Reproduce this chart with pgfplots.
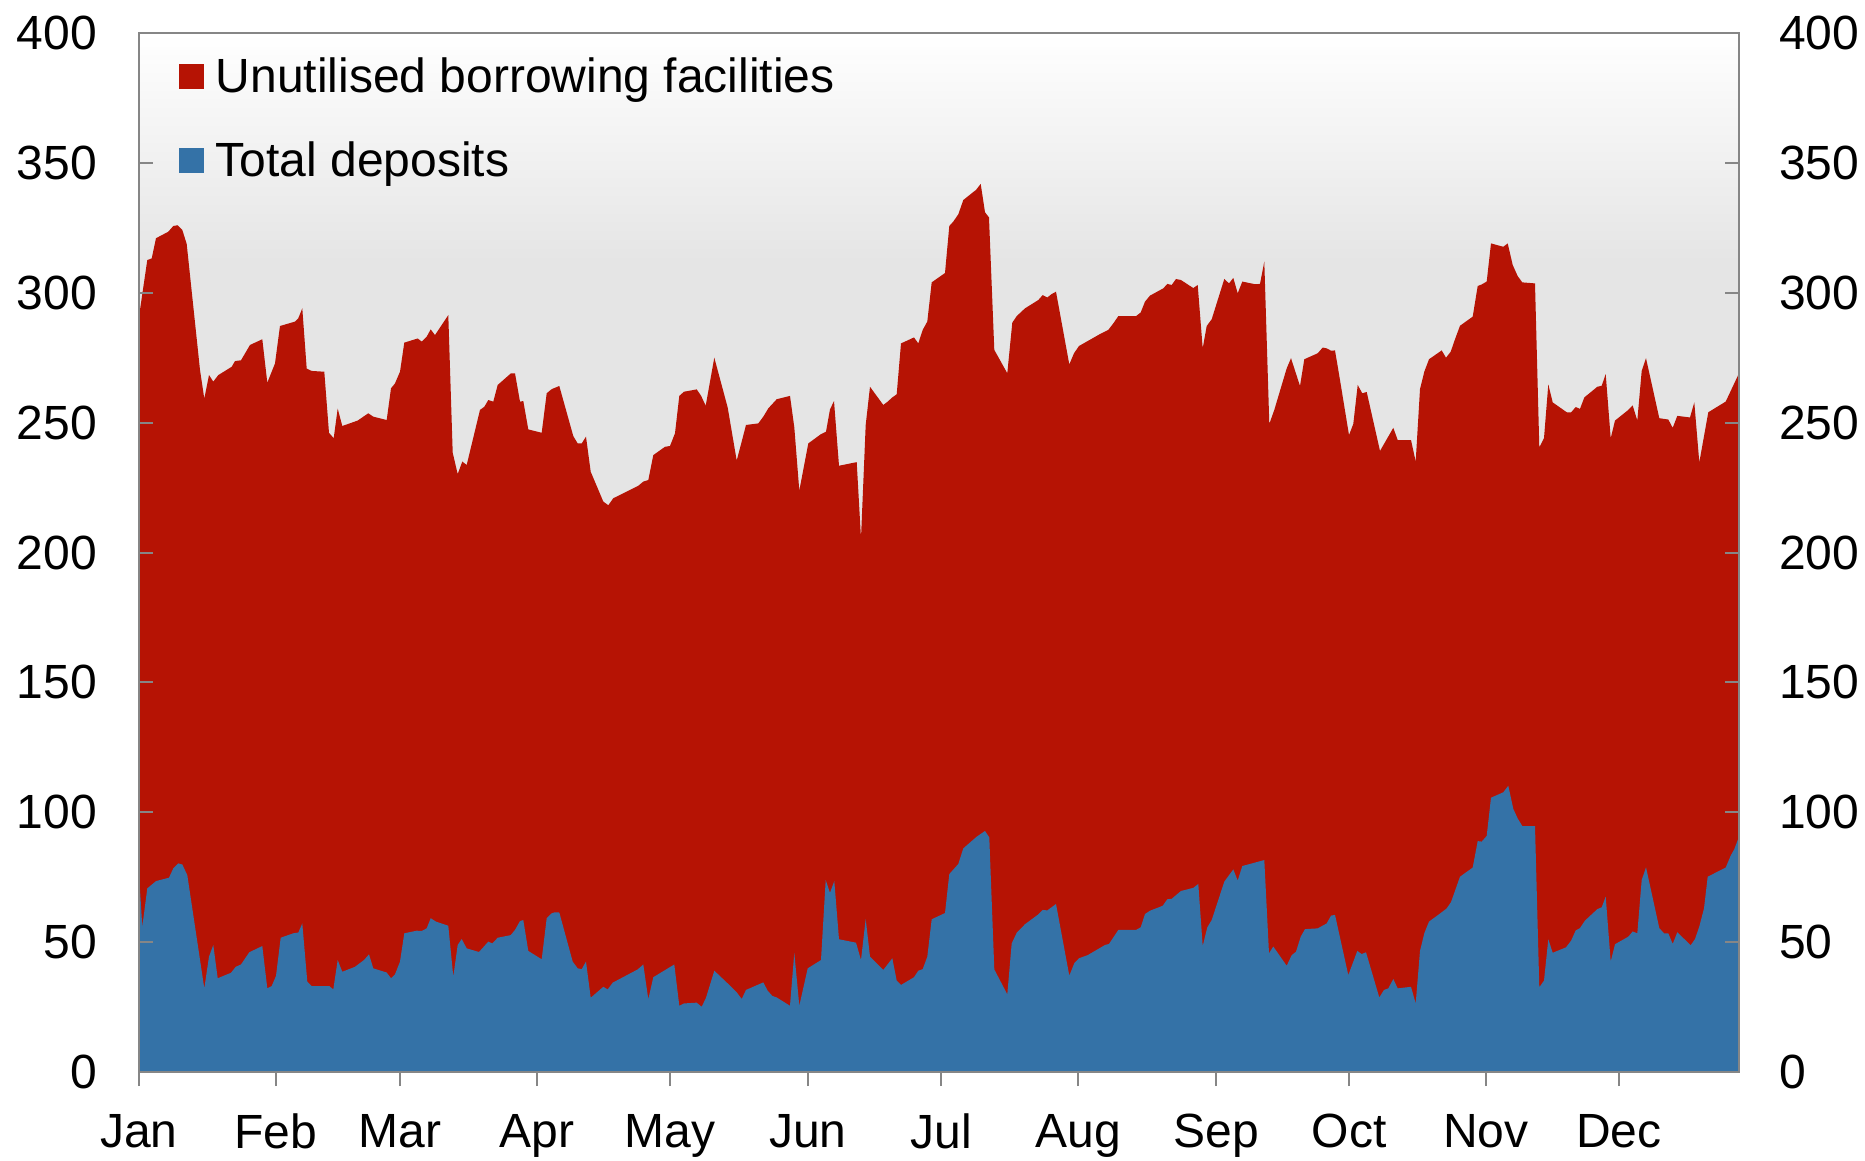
\documentclass[border=0pt]{standalone}
\usepackage{fontspec}
\setmainfont{Liberation Sans}
\usepackage{pgfplots}
\pgfplotsset{compat=1.18}
\definecolor{myred}{RGB}{182,19,4}
\definecolor{myblue}{RGB}{52,114,167}
\definecolor{axgray}{RGB}{134,134,134}
\definecolor{bggray}{RGB}{229,229,229}
\pgfdeclareverticalshading{bgshade}{100bp}{color(0bp)=(bggray); color(25bp)=(bggray); color(64bp)=(bggray); color(75bp)=(white); color(100bp)=(white)}
\begin{document}
\begin{tikzpicture}
\pgfplotsset{
  base/.style={width=400pt, height=259.75pt, scale only axis,
    xmin=0, xmax=1600, ymin=0, ymax=400,
    axis line style={axgray, line width=0.5pt},
    every tick/.style={axgray, line width=0.5pt},
    major tick length=3.5pt,
    tick label style={font=\fontsize{12}{14.4}\selectfont},
    /pgf/number format/assume math mode=true,
  }
}
\begin{axis}[base, axis on top,
  axis background/.style={shading=bgshade},
  tick align=outside,
  xtick={0,137,261,398,531,669,802,939,1077,1210,1347,1480},
  xticklabels={Jan,Feb,Mar,Apr,May,Jun,Jul,Aug,Sep,Oct,Nov,Dec},
  xtick pos=left,
  xticklabel style={yshift=-3.5pt},
  ytick=\empty,
  legend style={at={(rel axis cs:0,1)}, anchor=north west, xshift=9.75pt, yshift=-5.55pt,
    draw=none, fill=none, inner sep=0pt, row sep=9.6pt, column sep=3pt,
    font=\fontsize{12}{14.4}\selectfont,
    nodes={inner sep=0pt, text height=9pt, text depth=2.5pt}},
  legend cell align=left,
  legend image code/.code={\fill[#1] (0pt,-2.4pt) rectangle (6.25pt,3.85pt);},
]
\addplot[fill=myred, draw=none] coordinates {
(0,290.8) (8.3,312.6) (12.7,313.2) (17,321) (29.3,323.5) (34.3,325.7) (38.7,326) (43.3,324.2) (47.7,318.8)
(61,270.3) (65.3,259.2) (70,268.3) (74.3,265.8) (79.3,268.3) (92.7,271.5) (96,273.7) (102,274) (111,279.9)
(123.3,282.1) (128.3,265.4) (136,272.8) (141,287.2) (156,288.9) (159.3,290.2) (163.3,294) (167.7,270.8)
(172.7,269.9) (185.3,269.6) (190,246.1) (194.7,244) (198.7,255.4) (203.3,248.7) (218.7,250.8) (229.3,253.6)
(234.3,252.3) (247.7,251) (252,263.2) (256,265.1) (261,269.6) (265.3,280.8) (278.7,282.4) (282.7,281.2)
(287.7,283.1) (291.7,285.9) (296,283.7) (309.3,291.4) (313.7,238.4) (318.7,230.2) (323.3,235) (327.7,233.7)
(341,254.9) (345.3,256.1) (349.3,258.7) (354.3,258.1) (358.7,264.5) (372,269) (376,269) (381,258.1)
(384.3,258.3) (389.3,247.4) (402.7,246.1) (407.7,261.3) (412.7,262.9) (420.3,264.1) (434.3,244.8) (438.7,242)
(442.7,242) (447,244.6) (451.7,231.1) (464.3,219.6) (469.3,218.2) (474.3,220.9) (499.3,225.7) (504.3,227.3)
(509.3,227.9) (514.3,237.5) (526,240.7) (531,241) (536,245.9) (540.3,260.3) (545,261.9) (557.7,262.8)
(562,260.4) (566.7,256.5) (575.3,275) (588.7,255.8) (597.7,235.4) (602.7,242.7) (607,249.1) (619.3,249.7)
(624.3,252.3) (629.3,255.5) (637.7,259) (651,260.3) (655.3,248.2) (660.3,223.8) (669.3,242) (681.7,245.5)
(687,246.5) (691,255.1) (695,258.3) (700,233.4) (717.7,234.8) (722,205.5) (726.7,249.1) (731,263.8)
(744.3,256.8) (748.7,258.1) (753.3,259.7) (757.7,260.9) (762,280.5) (775,282.8) (779.3,280.5) (783.7,285.7)
(788.3,288.9) (792.7,304) (806,307.6) (810.3,325.7) (814.3,327.4) (819.3,330.2) (824.3,335.7) (837,339.6)
(841.7,341.9) (846,331) (850,329) (855.3,278) (868.3,269) (873.3,288.5) (877.7,291) (886,294)
(899.3,297.2) (903.7,299.1) (908.3,298.2) (912.7,299.5) (917,300.4) (930.3,272.4) (935,276.7) (940,279.5)
(961,284.1) (969.3,285.7) (974.3,288.2) (979.3,291) (997,291) (1001.7,292.4) (1006,296.6) (1011,298.9)
(1024.3,301.7) (1028.3,303.4) (1032.7,303) (1037,305.3) (1042,304.9) (1054.3,301.8) (1058.7,303) (1063.7,278.6)
(1067.7,287.2) (1072.7,289.8) (1085.3,305.3) (1090,303.6) (1094.3,305.7) (1098.7,299.8) (1103.3,304.3) (1116,303.3)
(1121,303.4) (1125.3,312) (1130.3,249.5) (1135.3,254.9) (1147.7,270.9) (1152,274.8) (1161,264.1) (1165.3,274.4)
(1178.7,276.7) (1183.7,278.9) (1187.7,278.6) (1192,277.7) (1196,277.8) (1201,266.4) (1210,245.2) (1214.3,249.5)
(1218.7,264.5) (1223.3,261.3) (1227.7,261.8) (1241,239.1) (1254.3,248) (1258.7,243.3) (1272,243.3) (1276.7,235)
(1281,262.9) (1285.3,269.6) (1290,274.4) (1302.7,277.8) (1307,275) (1311.7,277.3) (1316,282.1) (1321,287.3)
(1333.7,290.8) (1338.7,302.6) (1342.7,303.2) (1347.7,304.3) (1352,319) (1364.3,317.7) (1368.7,319) (1373.7,310.7)
(1378.7,306.4) (1383.3,304) (1396,303.6) (1400.3,240.4) (1405,244) (1409.3,264.7) (1413.7,257.8) (1427.7,254)
(1432,253.9) (1436.7,256) (1441,255.3) (1445.3,259.7) (1458.3,263.8) (1462.7,264.2) (1466.7,268.7) (1471.7,244)
(1476,250.8) (1489.3,254.9) (1493.7,256.6) (1498.3,250.8) (1502.7,269.9) (1507,274.8) (1520.3,251.7) (1529.3,251.2)
(1533.7,248) (1538.3,252.6) (1551,252) (1555.3,257.8) (1560.3,234.7) (1569.3,254) (1586.7,258.1) (1600,269)
} \closedcycle;
\addlegendentry{Unutilised borrowing facilities}
\addplot[fill=myblue, draw=none] coordinates {
(0,76.5) (3.3,55.9) (8.3,70.7) (17,73.5) (30,74.8) (34.3,78.4) (39.3,80.3) (43.3,79.9) (48.3,75.8)
(65.3,32.2) (70,44.4) (74.3,48.9) (78.7,36.1) (92,38.2) (96.7,40.5) (102,41.4) (110.3,46.1) (123.3,48.5)
(128.3,32.2) (132.7,33.1) (137,37) (141.7,51.7) (154.3,53.4) (159.3,53.7) (163.3,57.2) (168.3,34.8)
(172.7,33.1) (190.3,33.1) (194.3,31.8) (198.7,43.1) (203.3,38.6) (216,40.5) (225,43.1) (230,45.3)
(234.3,39.9) (247.7,38.3) (252,36.1) (256,37.6) (261,42.5) (265.3,53.4) (277.7,54.4) (282.7,54.3)
(287.7,55.3) (291.7,59.2) (297,57.9) (309.3,56.3) (314.3,36.7) (318.7,48.9) (322.7,51.2) (327.7,47.6)
(340,46.2) (349.3,50.2) (353.3,49.5) (358.7,51.7) (371.7,52.7) (376,54.7) (381,58.1) (384.3,58.5)
(389.3,46.6) (402.7,43.4) (407.7,59.2) (412.7,61.1) (416,61.5) (420.3,61.4) (433.7,42.5) (438.7,39.9)
(442.7,39.6) (447,42.5) (451.7,28.6) (464.3,32.8) (468.7,31.8) (473.7,34.4) (498.7,39.5) (504.3,41.4)
(509.3,28) (514.3,36.5) (535.3,41.4) (540.3,25.5) (545,26.4) (557.7,26.7) (562.7,25.1) (567,28.6)
(575.3,39) (588.7,34.1) (597.7,30.7) (602.7,28.1) (607,31.6) (624.3,34.5) (628.7,31.3) (633.3,29.3)
(637.7,28.7) (651,25.5) (655.3,45.9) (660.3,25.5) (668.7,39.9) (682,43.1) (686.7,73.9) (691,69)
(695.3,73.5) (700,51.1) (717,49.8) (722,43.1) (726.7,58.9) (731,44.4) (744.3,39.3) (753.3,43.8)
(757.7,35.2) (762,33.5) (775,36.5) (779.3,39) (783.7,39.6) (788.3,44.4) (792.7,58.8) (806,61.2)
(810.3,76.2) (819.3,80.1) (824.3,86.1) (837.7,90.6) (846,92.8) (850.3,90.3) (855.3,39.5) (868.3,29.9)
(872.7,49.5) (877.7,53.6) (886,56.9) (898.7,60.5) (903.7,62.4) (908.3,62.2) (917,64.7) (930.3,37.1)
(935.3,41.9) (940,43.8) (948.7,45) (966,48.9) (970,49.3) (979.3,54.7) (997,54.7) (1001.7,55.7)
(1006,60.8) (1011,62.1) (1023.7,64) (1028.3,66.5) (1032.7,66.7) (1042,69.7) (1054.3,70.9) (1059.3,72.4)
(1063.7,48.5) (1068.3,55.7) (1072.7,58.5) (1085.3,73.3) (1094.3,78) (1098.7,73.7) (1103.3,79.3) (1125.3,81.6)
(1130,45.7) (1134.3,48.3) (1147.7,40.9) (1152.7,45) (1157,46.3) (1161.7,52.1) (1166,55) (1178.7,55.3)
(1187.7,57.2) (1192,60.2) (1196,60.5) (1209.3,37.3) (1218.3,46.6) (1222.7,45.4) (1227,46.1) (1240.3,28.7)
(1245,31.6) (1249.3,32.2) (1254.3,35.8) (1258.7,32.2) (1272,32.8) (1276.7,26.4) (1281,46.6) (1285.3,53.4)
(1290,57.9) (1302.7,61.5) (1307.7,63) (1312,65.4) (1321,75.2) (1333.7,78.7) (1338.7,88.9) (1342.7,88.7)
(1347.7,90.9) (1352,105.6) (1364.3,107.7) (1369.3,110.2) (1374.3,101.3) (1378.7,97.6) (1383.3,94.7) (1396,94.7)
(1400.3,32.6) (1405,35.2) (1409.3,51.1) (1413.7,45.9) (1427,48) (1432,50.5) (1436.7,54.5) (1441,55.4)
(1446,58.3) (1458.3,62.7) (1462.7,63.4) (1466.7,67.5) (1471.7,42.5) (1476,49.2) (1489.3,52.1) (1493.7,54.1)
(1498.3,53.4) (1502.7,73.9) (1507,78.8) (1520.3,55.4) (1525,53.4) (1529.3,53.4) (1533.7,49.3) (1538.3,53.8)
(1551.7,48.8) (1556,51.2) (1560.3,56) (1565,63) (1568.7,75.2) (1586.7,78.7) (1591.7,83.3) (1595.3,85.8)
(1600,90.6)
} \closedcycle;
\addlegendentry{Total deposits}
\end{axis}
\begin{axis}[base, tick align=inside, xtick=\empty,
  ytick={0,50,...,400}, ytick pos=both, yticklabel pos=left,
  yticklabel style={xshift=-7pt}]
\end{axis}
\begin{axis}[base, tick align=inside, xtick=\empty,
  ytick={0,50,...,400}, ytick pos=both, yticklabel pos=right,
  yticklabel style={xshift=6.5pt}]
\end{axis}
\pgfresetboundingbox
\path (-34.75pt,-22pt) rectangle (431.5pt,268pt);
\end{tikzpicture}
\end{document}
